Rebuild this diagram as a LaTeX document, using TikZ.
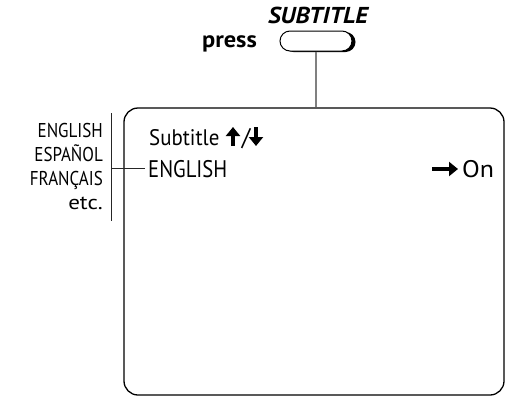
\documentclass[tikz,border=0pt]{standalone}
\usepackage{fontspec}
\setmainfont{PT Sans}
\usetikzlibrary{arrows.meta}
\newcommand{\capsx}[1]{\scalebox{0.86}[1]{#1}}
\newcommand{\lcapsx}[1]{\scalebox{0.85}[1]{#1}}
\begin{document}
\begin{tikzpicture}[x=1pt,y=-1pt,
  boxtxt/.style={inner sep=0pt, font=\fontsize{24}{28}\selectfont},
  lsttxt/.style={inner sep=0pt, anchor=base east, font=\fontsize{20}{24}\selectfont},
  thinline/.style={line width=0.9pt, black!85},
  heavyarrow/.style={line width=3.2pt, -{Triangle[width=14pt,length=9pt]}},
  btnshape/.style={minimum width=72pt, minimum height=20pt, rounded corners=10pt, inner sep=0pt},
]
\useasboundingbox (0,0) rectangle (506,397);
% button
\node[anchor=base, inner sep=0pt, font=\bfseries\itshape\fontsize{23}{27}\selectfont] (sub) at (318,23) {\scalebox{1.08}[1]{SUBTITLE}};
\node[anchor=base east, inner sep=0pt, font=\bfseries\fontsize{23}{27}\selectfont] (press) at (257,47) {\scalebox{1.06}[1]{press}};
\node[btnshape, fill=black] (btnshadow) at (319.5,42) {};
\node[btnshape, draw, line width=1pt, fill=white] (btn) at (316,41) {};
% screen
\node[draw, line width=1.3pt, rounded corners=14pt, minimum width=380pt, minimum height=287pt, inner sep=0pt] (screen) at (314,251.5) {};
\draw[line width=1.5pt, black!50] (btn.south) -- (btn.south |- screen.north);
% screen texts
\node[boxtxt, anchor=base west, font=\fontsize{22.5}{27}\selectfont] (subt) at (149,145) {\scalebox{0.93}[1]{Subtitle}};
\draw[heavyarrow] (233,146) -- (233,127);
\node[boxtxt, anchor=base] (slash) at (246,145) {/};
\draw[heavyarrow] (256,127) -- (256,146);
\node[boxtxt, anchor=base west] (eng) at (148,177) {\capsx{ENGLISH}};
\draw[heavyarrow] (432,169) -- (458,169);
\node[boxtxt, anchor=base west] (on) at (462,177) {\scalebox{1.08}[1]{On}};
% left list
\node[lsttxt] (l1) at (103,137) {\lcapsx{ENGLISH}};
\node[lsttxt] (l2) at (103,161) {\lcapsx{ESPAÑOL}};
\node[lsttxt] (l3) at (103,185) {\lcapsx{FRANÇAIS}};
\node[lsttxt] (l4) at (103,209) {\scalebox{1.15}[1]{etc.}};
\coordinate (vtop) at (111,113);
\coordinate (vbot) at (111,221);
\coordinate (hl) at (111,168);
\draw[thinline] (vtop) -- (vbot);
\draw[thinline] (hl) -- ([xshift=-3pt]eng.west |- hl);
\end{tikzpicture}
\end{document}
